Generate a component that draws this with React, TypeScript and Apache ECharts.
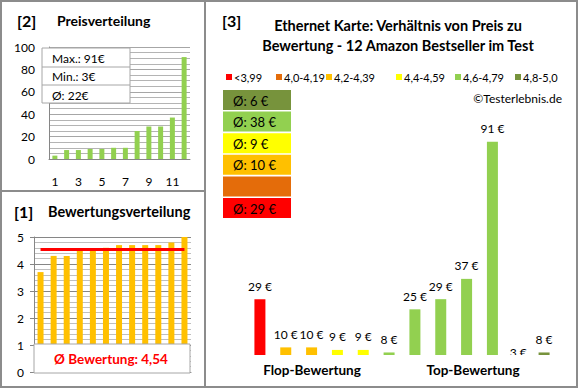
import React, { useEffect, useRef } from "react";
import * as echarts from "echarts";

// ---------- data ----------
const priceCats = ["1", "2", "3", "4", "5", "6", "7", "8", "9", "10", "11", "12"];
const pricesSorted = [3, 8, 8, 9, 9, 10, 10, 25, 29, 29, 37, 91];
const priceStats = ["Max.: 91€", "Min.: 3€", "Ø: 22€"];

const ratingCats = ["1", "2", "3", "4", "5", "6", "7", "8", "9", "10", "11", "12"];
const ratings = [3.7, 4.3, 4.3, 4.5, 4.5, 4.6, 4.7, 4.7, 4.7, 4.7, 4.8, 5.0];
const ratingAvg = 4.54;
const ratingAvgLabel = "Ø Bewertung: 4,54";

const cmpCats = ["1", "2", "3", "4", "5", "6", "7", "8", "9", "10", "11", "12"];
const cmpPrices = [29, 10, 10, 9, 9, 8, 25, 29, 37, 91, 3, 8];
const cmpRatings = [3.7, 4.3, 4.3, 4.5, 4.5, 4.6, 4.7, 4.7, 4.7, 4.7, 4.8, 5.0];
const classLabels = ["<3,99", "4,0-4,19", "4,2-4,39", "4,4-4,59", "4,6-4,79", "4,8-5,0"];
const classThresholds = [4.0, 4.2, 4.4, 4.6, 4.8];
const classAvg: (number | null)[] = [29, null, 10, 9, 38, 6];
const groupLabels = ["Flop-Bewertung", "Top-Bewertung"];

const titles = {
  p2: ["[2]", "Preisverteilung"],
  p1: ["[1]", "Bewertungsverteilung"],
  p3: ["[3]", "Ethernet Karte: Verhältnis von Preis zu", "Bewertung - 12 Amazon Bestseller im Test"],
  copy: "©Testerlebnis.de",
};

// ---------- styles ----------
const FONT = "Lato, 'Open Sans', sans-serif";
const classColors = ["#ff0000", "#e46c0a", "#ffc000", "#ffff00", "#92d050", "#77933c"];
const legendX = [226, 276, 326, 396, 455, 515];

function classOf(r: number) {
  let c = 0;
  for (const t of classThresholds) if (r >= t - 1e-9) c++;
  return c;
}

export default function App() {
  const ref = useRef<HTMLDivElement>(null);
  useEffect(() => {
    if (!ref.current) return;
    const chart = echarts.init(ref.current, undefined, { renderer: "svg" });

    const graphics: any[] = [];
    // frame
    graphics.push({ type: "rect", shape: { x: 1, y: 1, width: 576, height: 386 }, style: { fill: "none", stroke: "#8c8c8c", lineWidth: 2 }, z: 100 });
    graphics.push({ type: "line", shape: { x1: 205, y1: 1, x2: 205, y2: 387 }, style: { stroke: "#8c8c8c", lineWidth: 2 }, z: 100 });
    graphics.push({ type: "line", shape: { x1: 1, y1: 191, x2: 205, y2: 191 }, style: { stroke: "#8c8c8c", lineWidth: 2 }, z: 100 });

    const txt = (text: string, x: number, y: number, size: number, bold: boolean, align = "left", fill = "#000") => ({
      type: "text",
      x, y, z: 110,
      style: { text, fill, fontSize: size, fontWeight: bold ? "bold" : "normal", fontFamily: FONT, align, verticalAlign: "middle" },
    });

    // titles
    graphics.push(txt(titles.p2[0], 17, 20, 16, true));
    graphics.push(txt(titles.p2[1], 57, 20, 14, true));
    graphics.push(txt(titles.p1[0], 14, 211, 16, true));
    graphics.push(txt(titles.p1[1], 48, 211, 14.5, true));
    graphics.push(txt(titles.p3[0], 222, 20, 16, true));
    graphics.push(txt(titles.p3[1], 398, 25, 14.5, true, "center"));
    graphics.push(txt(titles.p3[2], 398, 45, 14.5, true, "center"));

    // price stats box
    graphics.push({ type: "rect", shape: { x: 42, y: 48, width: 88, height: 55 }, style: { fill: "#fff", stroke: "#a6a6a6", lineWidth: 1 }, z: 105 });
    [67, 85].forEach((y) => graphics.push({ type: "line", shape: { x1: 42, y1: y, x2: 130, y2: y }, style: { stroke: "#a6a6a6", lineWidth: 1 }, z: 106 }));
    priceStats.forEach((s, i) => graphics.push(txt(s, 52, 58 + i * 18.5, 12, false)));

    // rating avg box
    graphics.push({ type: "rect", shape: { x: 34, y: 344, width: 156, height: 29 }, style: { fill: "#fff", stroke: "#a6a6a6", lineWidth: 1 }, z: 105 });
    graphics.push(txt(ratingAvgLabel, 111, 359, 13.5, true, "center", "#ff0000"));

    // legend
    classLabels.forEach((l, i) => {
      graphics.push({ type: "rect", shape: { x: legendX[i], y: 74, width: 6, height: 6 }, style: { fill: classColors[i] }, z: 105 });
      graphics.push(txt(l, legendX[i] + 8, 77.5, 11, false));
    });
    graphics.push(txt(titles.copy, 562, 98, 12, false, "right"));

    // class average boxes (top: best class)
    for (let k = 0; k < 6; k++) {
      const cls = 5 - k;
      const y = 90 + k * 21.6;
      graphics.push({ type: "rect", shape: { x: 223, y, width: 68, height: 20 }, style: { fill: classColors[cls] }, z: 105 });
      const a = classAvg[cls];
      if (a != null) graphics.push(txt(`Ø: ${a} €`, 233, y + 10.5, 13, false));
    }

    // group labels
    graphics.push(txt(groupLabels[0], 312, 370, 13.5, true, "center"));
    graphics.push(txt(groupLabels[1], 473, 370, 13.5, true, "center"));

    const axisText = { color: "#000", fontSize: 12, fontFamily: FONT };

    chart.setOption({
      animation: false,
      backgroundColor: "#fff",
      grid: [
        { left: 49, top: 47, width: 141, height: 112 },
        { left: 34, top: 237, width: 157, height: 135 },
        { left: 247, top: 119, width: 310, height: 236 },
      ],
      xAxis: [
        {
          gridIndex: 0, type: "category", data: priceCats,
          axisLine: { lineStyle: { color: "#868686" } }, axisTick: { show: false },
          axisLabel: { ...axisText, interval: 1, margin: 16 },
        },
        {
          gridIndex: 1, type: "category", data: ratingCats,
          axisLine: { lineStyle: { color: "#868686" } }, axisTick: { show: false }, axisLabel: { show: false },
        },
        { gridIndex: 2, type: "category", data: cmpCats, show: false },
      ],
      yAxis: [
        {
          gridIndex: 0, type: "value", min: 0, max: 100, interval: 20,
          axisLine: { show: true, lineStyle: { color: "#868686" } }, axisTick: { show: false },
          axisLabel: { ...axisText, margin: 14 },
          splitLine: { lineStyle: { color: "#a6a6a6" } },
          minorTick: { show: false, splitNumber: 4 },
          minorSplitLine: { show: true, lineStyle: { color: "#b4b4b4" } },
        },
        {
          gridIndex: 1, type: "value", min: 0, max: 5, interval: 1,
          axisLine: { show: true, lineStyle: { color: "#868686" } },
          axisTick: { show: true, length: 4, lineStyle: { color: "#868686" } },
          axisLabel: { ...axisText, margin: 10 },
          splitLine: { lineStyle: { color: "#868686" } },
          minorTick: { show: false, splitNumber: 5 },
          minorSplitLine: { show: true, lineStyle: { color: "#bfbfbf" } },
        },
        { gridIndex: 2, type: "value", min: 7, max: 100, show: false },
      ],
      series: [
        {
          type: "bar", xAxisIndex: 0, yAxisIndex: 0, data: pricesSorted,
          barWidth: 5, itemStyle: { color: "#92d050" },
        },
        {
          type: "bar", xAxisIndex: 1, yAxisIndex: 1, data: ratings,
          barWidth: 6, itemStyle: { color: "#ffc000" },
          markLine: {
            silent: true, symbol: "none", label: { show: false },
            lineStyle: { color: "#ff0000", width: 3, type: "solid" },
            data: [[{ coord: [0, ratingAvg] }, { coord: [11, ratingAvg] }]],
          },
        },
        {
          type: "custom", xAxisIndex: 2, yAxisIndex: 2, clip: true,
          data: cmpPrices.map((v, i) => [i, v, classOf(cmpRatings[i])]),
          encode: { x: 0, y: 1 },
          renderItem: (params: any, api: any) => {
            const i = api.value(0);
            const v = api.value(1);
            const c = api.value(2);
            const top = api.coord([i, v]);
            const base = api.coord([i, 7]);
            const w = 11;
            return {
              type: "group",
              children: [
                {
                  type: "rect",
                  shape: { x: top[0] - w / 2, y: Math.min(top[1], base[1]), width: w, height: Math.abs(base[1] - top[1]) },
                  style: { fill: classColors[c] },
                },
                {
                  type: "text", x: top[0], y: top[1] - 13,
                  style: { text: `${v} €`, fill: "#000", fontSize: 12, fontFamily: FONT, align: "center", verticalAlign: "middle" },
                },
              ],
            };
          },
        },
      ],
      graphic: graphics,
    });
    return () => chart.dispose();
  }, []);
  return <div ref={ref} style={{ position: "fixed", left: 0, top: 0, width: 580, height: 390, background: "#fff" }} />;
}
